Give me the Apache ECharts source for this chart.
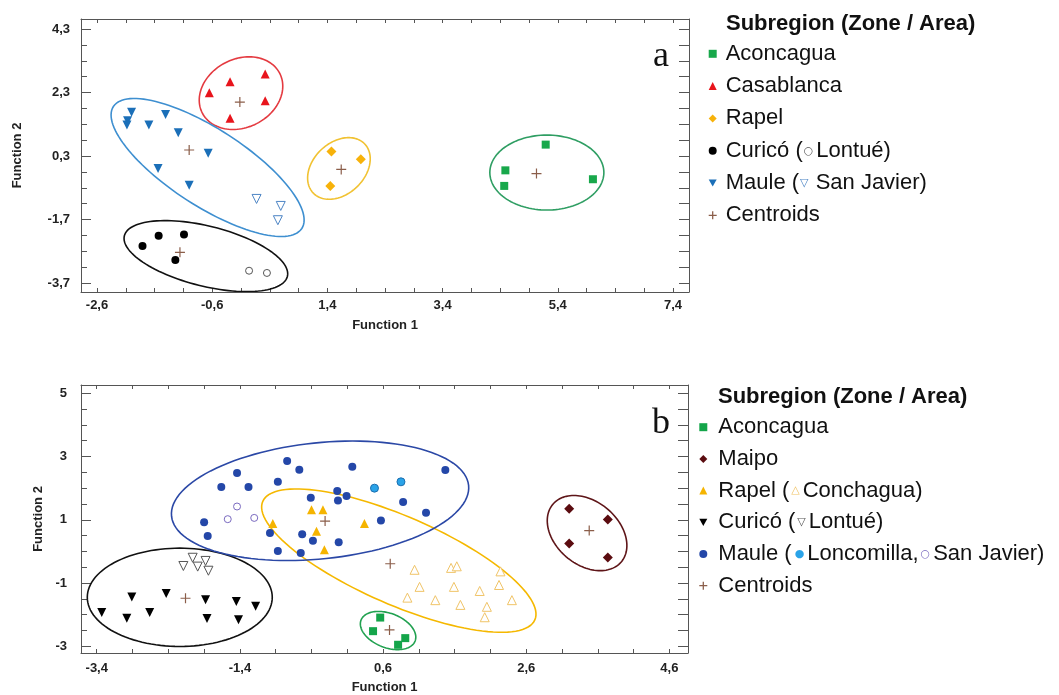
<!DOCTYPE html>
<html>
<head>
<meta charset="utf-8">
<script src="https://cdn.jsdelivr.net/npm/echarts@6/dist/echarts.min.js"></script>
<style>
html, body { margin: 0; padding: 0; background: #fff; }
#main { width: 1059px; height: 695px; }
</style>
</head>
<body>
<div id="main"></div>
<script>
// ---- panel a ----
var aXTicks = [-2.6, -0.6, 1.4, 3.4, 5.4, 7.4];
var aYTicks = [-3.7, -1.7, 0.3, 2.3, 4.3];
var aAconcagua = [[5.19, 0.66], [4.49, -0.15], [4.47, -0.64], [6.01, -0.43]];
var aCasablanca = [[-0.65, 2.29], [-0.29, 2.64], [0.32, 2.88], [0.32, 2.04], [-0.29, 1.49]];
var aRapel = [[1.47, 0.44], [1.98, 0.20], [1.45, -0.64]];
var aCurico = [[-1.81, -2.53], [-1.53, -2.21], [-1.09, -2.17], [-1.24, -2.97]];
var aLontue = [[0.04, -3.31], [0.35, -3.38]];
var aMaule = [[-2.0, 1.68], [-2.07, 1.41], [-2.08, 1.28], [-1.70, 1.28], [-1.41, 1.61],
              [-1.19, 1.03], [-0.67, 0.39], [-1.54, -0.09], [-1.0, -0.62]];
var aSanJavier = [[0.17, -1.05], [0.59, -1.27], [0.54, -1.72]];
var aCentroids = [[5.03, -0.25], [-0.12, 2.0], [1.64, -0.12], [-1.16, -2.73], [-1.0, 0.49]];
// ellipses: centre x, centre y, then two conjugate half axes (data units)
var aEllAconcagua = [5.21, -0.22, 0.99, 0, 0, -1.18];
var aEllCasablanca = [-0.10, 2.28, 0.673, 0.622, 0.270, -0.960];
var aEllRapel = [1.60, -0.09, 0.448, 0.771, 0.308, -0.589];
var aEllCurico = [-0.71, -2.85, 1.415, -0.640, -0.126, -0.917];
var aEllMaule = [-0.68, -0.06, 1.636, -1.919, -0.363, -1.019];

// ---- panel b ----
var bXTicks = [-3.4, -1.4, 0.6, 2.6, 4.6];
var bYTicks = [-3, -1, 1, 3, 5];
var bAconcagua = [[0.56, -2.09], [0.46, -2.52], [0.81, -2.95], [0.91, -2.74]];
var bMaipo = [[3.20, 1.35], [3.74, 1.01], [3.20, 0.25], [3.74, -0.19]];
var bRapel = [[-0.40, 1.32], [-0.24, 1.32], [-0.94, 0.88], [-0.33, 0.64], [0.34, 0.88], [-0.22, 0.05]];
var bConchagua = [[1.04, -0.58], [1.55, -0.52], [1.63, -0.47], [2.24, -0.63], [1.11, -1.12],
                  [1.59, -1.12], [2.22, -1.06], [0.94, -1.46], [1.33, -1.54], [1.68, -1.69],
                  [1.95, -1.25], [2.05, -1.75], [2.02, -2.08], [2.40, -1.54]];
var bCurico = [[-3.33, -1.93], [-2.91, -1.44], [-2.98, -2.11], [-2.66, -1.93], [-2.43, -1.33],
               [-1.88, -1.53], [-1.86, -2.12], [-1.45, -1.58], [-1.42, -2.16], [-1.18, -1.73]];
var bLontue = [[-2.19, -0.46], [-2.06, -0.20], [-1.99, -0.48], [-1.88, -0.30], [-1.84, -0.61]];
var bMaule = [[-1.90, 0.92], [-1.85, 0.49], [-1.66, 2.04], [-1.44, 2.48], [-1.28, 2.04],
              [-0.87, 2.20], [-0.74, 2.86], [-0.57, 2.58], [-0.98, 0.58], [-0.87, 0.01],
              [-0.53, 0.54], [-0.55, -0.05], [-0.38, 0.34], [-0.41, 1.70], [-0.02, 0.29],
              [-0.04, 1.91], [-0.03, 1.61], [0.09, 1.75], [0.17, 2.68], [1.47, 2.57],
              [0.88, 1.56], [1.20, 1.22], [0.57, 0.98]];
var bLoncomilla = [[0.48, 2.0], [0.85, 2.20]];
var bSanJavier = [[-1.44, 1.42], [-1.57, 1.02], [-1.20, 1.06]];
var bCentroids = [[0.69, -2.48], [3.48, 0.66], [0.70, -0.39], [-2.16, -1.48], [-0.21, 0.96]];
var bEllAconcagua = [0.67, -2.50, 0.377, -0.334, -0.089, -0.503];
var bEllMaipo = [3.45, 0.58, 0.474, -0.921, -0.291, -0.750];
var bEllRapel = [0.82, -0.29, 1.900, -1.875, -0.251, -1.272];
var bEllCurico = [-2.24, -1.45, 1.292, 0, 0, -1.553];
var bEllMaule = [-0.28, 1.60, 2.075, 0.488, 0.086, -1.824];

var myChart = echarts.init(document.getElementById('main'));

var PLUS = 'path://M4.4,0H5.6V4.4H10V5.6H5.6V10H4.4V5.6H0V4.4H4.4Z';
var PLUS_LEG = 'path://M4.2,0H5.8V4.2H10V5.8H5.8V10H4.2V5.8H0V4.2H4.2Z';
var DOWN = 'path://M0,0L10,0L5,9Z';
var FRAME = '#555';

function fmt(v) { return String(v).replace('.', ','); }

// tick every 0.5 counted from the first labelled tick
function halfSteps(major, lo, hi) {
  var out = [];
  for (var k = -60; k <= 60; k++) {
    var v = Math.round((major[0] + k * 0.5) * 10) / 10;
    if (v >= lo && v <= hi) out.push(v);
  }
  return out;
}
function minorOnly(major, lo, hi) {
  return halfSteps(major, lo, hi).filter(function (v) { return major.indexOf(v) < 0; });
}

var labelStyle = { fontFamily: 'Liberation Sans', fontWeight: 'bold', fontSize: 13, color: '#222' };
var nameStyle = { fontFamily: 'Liberation Sans', fontWeight: 'bold', fontSize: 13, color: '#222' };
var frameLine = { show: true, onZero: false, lineStyle: { color: FRAME, width: 1 } };

function xAxes(grid, ticks, min, max, nameGap, labelMargin) {
  var all = halfSteps(ticks, min, max);
  return [{
    gridIndex: grid, type: 'value', position: 'bottom', min: min, max: max,
    axisLine: frameLine,
    axisTick: { show: true, inside: true, length: 4, customValues: all, lineStyle: { color: FRAME } },
    axisLabel: Object.assign({ customValues: ticks, formatter: fmt, margin: labelMargin }, labelStyle),
    splitLine: { show: false },
    name: 'Function 1', nameLocation: 'middle', nameGap: nameGap, nameTextStyle: nameStyle
  }, {
    gridIndex: grid, type: 'value', position: 'top', min: min, max: max,
    axisLine: frameLine,
    axisTick: { show: true, inside: true, length: 4, customValues: all, lineStyle: { color: FRAME } },
    axisLabel: { show: false }, splitLine: { show: false }
  }];
}

function yAxes(grid, ticks, min, max, nameGap, labelMargin) {
  return [{
    gridIndex: grid, type: 'value', position: 'left', min: min, max: max,
    axisLine: frameLine,
    axisTick: { show: true, inside: true, length: 10, customValues: ticks, lineStyle: { color: FRAME } },
    axisLabel: Object.assign({ customValues: ticks, formatter: fmt, margin: labelMargin }, labelStyle),
    splitLine: { show: false },
    name: 'Function 2', nameLocation: 'middle', nameGap: nameGap, nameTextStyle: nameStyle
  }, {
    gridIndex: grid, type: 'value', position: 'left', min: min, max: max,
    axisLine: { show: false, onZero: false },
    axisTick: { show: true, inside: true, length: 6, customValues: minorOnly(ticks, min, max), lineStyle: { color: FRAME } },
    axisLabel: { show: false }, splitLine: { show: false }
  }, {
    gridIndex: grid, type: 'value', position: 'right', min: min, max: max,
    axisLine: frameLine,
    axisTick: { show: true, inside: true, length: 10, customValues: halfSteps(ticks, min, max), lineStyle: { color: FRAME } },
    axisLabel: { show: false }, splitLine: { show: false }
  }];
}

function dots(name, xi, yi, data, symbol, size, style, rotate) {
  return {
    type: 'scatter', name: name, xAxisIndex: xi, yAxisIndex: yi, data: data,
    symbol: symbol, symbolSize: size, symbolRotate: rotate || 0,
    itemStyle: Object.assign({ opacity: 1 }, style), z: 3, silent: true
  };
}

function ellipse(name, xi, yi, ell, color) {
  return {
    type: 'custom', name: name, xAxisIndex: xi, yAxisIndex: yi, data: [ell], z: 2, silent: true, clip: true,
    renderItem: function (params, api) {
      var cx = api.value(0), cy = api.value(1), ux = api.value(2), uy = api.value(3),
          vx = api.value(4), vy = api.value(5);
      var pts = [];
      for (var i = 0; i < 120; i++) {
        var t = i / 120 * 2 * Math.PI;
        pts.push(api.coord([cx + ux * Math.cos(t) + vx * Math.sin(t), cy + uy * Math.cos(t) + vy * Math.sin(t)]));
      }
      return { type: 'polygon', shape: { points: pts }, style: { fill: 'none', stroke: color, lineWidth: 1.6 } };
    }
  };
}

var legText = { fontFamily: 'Liberation Sans', fontSize: 22, color: '#111', lineHeight: 21 };

option = {
  backgroundColor: '#fff',
  animation: false,
  title: [
    { text: 'Subregion (Zone / Area)', left: 726, top: 13, padding: 0,
      textStyle: { fontFamily: 'Liberation Sans', fontWeight: 'bold', fontSize: 22, color: '#111' } },
    { text: 'Subregion (Zone / Area)', left: 718, top: 386, padding: 0,
      textStyle: { fontFamily: 'Liberation Sans', fontWeight: 'bold', fontSize: 22, color: '#111' } },
    { text: 'a', left: 653, top: 39, padding: 0,
      textStyle: { fontFamily: 'Liberation Serif', fontWeight: 'normal', fontSize: 36, color: '#111' } },
    { text: 'b', left: 652, top: 406, padding: 0,
      textStyle: { fontFamily: 'Liberation Serif', fontWeight: 'normal', fontSize: 36, color: '#111' } }
  ],
  legend: [{
    orient: 'vertical', left: 708.7, top: 42.8, padding: 0, itemWidth: 8, itemHeight: 8, itemGap: 10.3,
    selectedMode: false,
    textStyle: Object.assign({ padding: [0, 0, 0, 4], rich: {
      o: { fontSize: 11, color: '#555', fontFamily: 'DejaVu Sans', padding: [0, 3, 0, 1] },
      v: { fontSize: 11, color: '#4d85c5', fontFamily: 'DejaVu Sans', padding: [0, 1, 0, 1] }
    } }, legText),
    formatter: function (name) {
      if (name === 'Curicó') return 'Curicó ({o|○}Lontué)';
      if (name === 'Maule') return 'Maule ({v|▽} San Javier)';
      return name;
    },
    data: [
      { name: 'Aconcagua', icon: 'rect', itemStyle: { color: '#18a84b' } },
      { name: 'Casablanca', icon: 'triangle', itemStyle: { color: '#e8141c' } },
      { name: 'Rapel', icon: 'diamond', itemStyle: { color: '#f7b20a' } },
      { name: 'Curicó', icon: 'circle', itemStyle: { color: '#000' } },
      { name: 'Maule', icon: DOWN, itemStyle: { color: '#1b6fb8' } },
      { name: 'Centroids', icon: PLUS_LEG, itemStyle: { color: '#8b5e4a' } }
    ]
  }, {
    orient: 'vertical', left: 699.3, top: 416.2, padding: 0, itemWidth: 8, itemHeight: 8, itemGap: 9.7,
    selectedMode: false,
    textStyle: Object.assign({ padding: [0, 0, 0, 6], rich: {
      t: { fontSize: 11, color: '#f0c468', fontFamily: 'DejaVu Sans', padding: [0, 3, 0, 2] },
      d: { fontSize: 11, color: '#555', fontFamily: 'DejaVu Sans', padding: [0, 3, 0, 2] },
      l: { fontSize: 11, color: '#2aa3e8', fontFamily: 'DejaVu Sans', padding: [0, 3, 0, 3] },
      s: { fontSize: 11, color: '#7a6ac0', fontFamily: 'DejaVu Sans', padding: [0, 3, 0, 2] }
    } }, legText),
    formatter: function (name) {
      if (name === 'Rapel') return 'Rapel ({t|△}Conchagua)';
      if (name === 'Curicó') return 'Curicó ({d|▽}Lontué)';
      if (name === 'Maule') return 'Maule ({l|●}Loncomilla,{s|○}San Javier)';
      return name;
    },
    data: [
      { name: 'Aconcagua', icon: 'rect', itemStyle: { color: '#14a54a' } },
      { name: 'Maipo', icon: 'diamond', itemStyle: { color: '#5b0c10' } },
      { name: 'Rapel', icon: 'triangle', itemStyle: { color: '#f5b400' } },
      { name: 'Curicó', icon: DOWN, itemStyle: { color: '#000' } },
      { name: 'Maule', icon: 'circle', itemStyle: { color: '#2447a8' } },
      { name: 'Centroids', icon: PLUS_LEG, itemStyle: { color: '#8b5e4a' } }
    ]
  }],
  grid: [
    { left: 81, top: 19, width: 608, height: 273 },
    { left: 81, top: 385, width: 607, height: 271 }
  ],
  xAxis: xAxes(0, aXTicks, -2.878, 7.678, 27, 7).concat(xAxes(1, bXTicks, -3.62, 4.86, 28, 9)),
  yAxis: yAxes(0, aYTicks, -3.98, 4.615, 57, 11).concat(yAxes(1, bYTicks, -3.21, 5.26, 36, 14)),
  series: [
    ellipse('ea1', 0, 0, aEllAconcagua, '#2f9e63'),
    ellipse('ea2', 0, 0, aEllCasablanca, '#e43a40'),
    ellipse('ea3', 0, 0, aEllRapel, '#f1c232'),
    ellipse('ea4', 0, 0, aEllCurico, '#111'),
    ellipse('ea5', 0, 0, aEllMaule, '#3e8fd0'),
    dots('Aconcagua', 0, 0, aAconcagua, 'rect', 8, { color: '#18a84b' }),
    dots('Casablanca', 0, 0, aCasablanca, 'triangle', 9, { color: '#e8141c' }),
    dots('Rapel', 0, 0, aRapel, 'diamond', 10, { color: '#f7b20a' }),
    dots('Curicó', 0, 0, aCurico, 'circle', 8, { color: '#000' }),
    dots('a-Lontue', 0, 0, aLontue, 'circle', 7, { color: '#fff', borderColor: '#555', borderWidth: 1 }),
    dots('Maule', 0, 0, aMaule, 'triangle', 9, { color: '#1b6fb8' }, 180),
    dots('a-SanJavier', 0, 0, aSanJavier, 'triangle', 9, { color: '#fff', borderColor: '#4d85c5', borderWidth: 1 }, 180),
    dots('Centroids', 0, 0, aCentroids, PLUS, 10, { color: '#8b5e4a' }),

    ellipse('eb1', 2, 3, bEllAconcagua, '#21a150'),
    ellipse('eb2', 2, 3, bEllMaipo, '#5e1518'),
    ellipse('eb3', 2, 3, bEllRapel, '#f5b800'),
    ellipse('eb4', 2, 3, bEllCurico, '#111'),
    ellipse('eb5', 2, 3, bEllMaule, '#2b48a6'),
    dots('Aconcagua', 2, 3, bAconcagua, 'rect', 8, { color: '#14a54a' }),
    dots('Maipo', 2, 3, bMaipo, 'diamond', 10, { color: '#5b0c10' }),
    dots('Rapel', 2, 3, bRapel, 'triangle', 9, { color: '#f5b400' }),
    dots('b-Conchagua', 2, 3, bConchagua, 'triangle', 9, { color: '#fff', borderColor: '#f0c468', borderWidth: 1 }),
    dots('Curicó', 2, 3, bCurico, 'triangle', 9, { color: '#000' }, 180),
    dots('b-Lontue', 2, 3, bLontue, 'triangle', 9, { color: '#fff', borderColor: '#555', borderWidth: 1 }, 180),
    dots('Maule', 2, 3, bMaule, 'circle', 8, { color: '#2447a8' }),
    dots('b-Loncomilla', 2, 3, bLoncomilla, 'circle', 8, { color: '#2aa3e8', borderColor: '#1c6fb0', borderWidth: 1 }),
    dots('b-SanJavier', 2, 3, bSanJavier, 'circle', 7, { color: '#fff', borderColor: '#7a6ac0', borderWidth: 1 }),
    dots('Centroids', 2, 3, bCentroids, PLUS, 10, { color: '#8b5e4a' })
  ]
};

myChart.setOption(option);
window.addEventListener('resize', function () {
  myChart.resize();
});
</script>
</body>
</html>
